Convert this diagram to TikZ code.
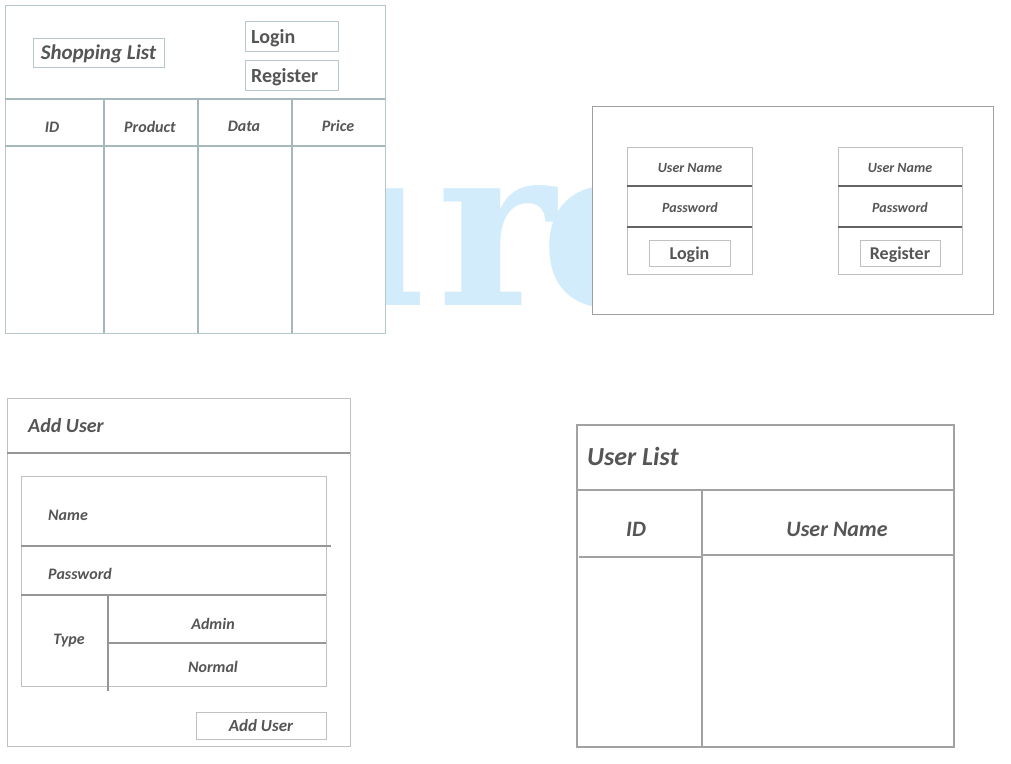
\documentclass[tikz,border=0pt]{standalone}
\usepackage{fontspec}
\setmainfont{Carlito}
\newfontfamily\slabfont{DejaVu Serif}
\usepackage{xcolor}
\usetikzlibrary{positioning}

\definecolor{txtgray}{RGB}{85,85,85}
\definecolor{wmblue}{RGB}{210,236,252}
\definecolor{shopborder}{RGB}{182,198,202}
\definecolor{shopgrid}{RGB}{166,184,188}
\definecolor{authborder}{RGB}{160,160,160}
\definecolor{boxgray}{RGB}{192,192,192}
\definecolor{darksep}{RGB}{100,100,100}
\definecolor{midsep}{RGB}{150,150,150}
\definecolor{listgrid}{RGB}{162,162,162}

\begin{document}
\begin{tikzpicture}[x=1pt, y=-1pt,
        panel/.style={draw=#1, fill=white, line width=1.2pt, anchor=north west, inner sep=0pt},
        box/.style={draw=boxgray, fill=white, line width=1pt, inner sep=0pt},
        lbl/.style={text=txtgray, font=\bfseries\itshape\fontsize{#1}{#1}\selectfont},
        btnlbl/.style={text=txtgray, font=\bfseries\fontsize{#1}{#1}\selectfont},
        wm/.style={text=wmblue, font=\slabfont\bfseries\fontsize{225}{225}\selectfont, inner sep=0pt},
        shopline/.style={draw=shopgrid, line width=2pt},
        sepline/.style={draw=#1, line width=2pt},
        listline/.style={draw=listgrid, line width=2.5pt}
    ]
        \fill[white] (0,0) rectangle (1011,763);
        \useasboundingbox (0,0) rectangle (1011,763);

        % Watermark
        \node[wm, anchor=base east] (wmU) at (428,305) {u};
        \node[wm, anchor=base west] (wmR) at (437,305) {r};
        \node[wm, anchor=base west] (wmE) at (540,305) {e};

        % Shopping list
        \node[panel=shopborder, minimum width=380pt, minimum height=328pt] (shop) at (5,5) {};
        \node[box, draw=shopborder, minimum width=131pt, minimum height=29pt] (shopTitleBox) at (98.5,52.5) {};
        \node[lbl=21, inner sep=0pt] (shopTitle) at (98.5,54) {Shopping List};
        \node[box, draw=shopborder, minimum width=93pt, minimum height=30pt] (shopLogin) at (291.5,36) {};
        \node[box, draw=shopborder, minimum width=93pt, minimum height=30pt] (shopRegister) at (291.5,75) {};
        \node[btnlbl=20, anchor=west, inner sep=0pt] (shopLoginText) at (251,38.5) {Login};
        \node[btnlbl=20, anchor=west, inner sep=0pt] (shopRegisterText) at (251,77.5) {Register};

        \draw[shopline] (5,99) -- (385,99);
        \draw[shopline] (5,146) -- (385,146);
        \foreach \x in {104,198,292}
            \draw[shopline] (\x,99) -- (\x,333);

        \node[lbl=16] (colID) at (52,127) {ID};
        \node[lbl=16] (colProduct) at (150,127) {Product};
        \node[lbl=16] (colData) at (244,126) {Data};
        \node[lbl=16] (colPrice) at (338,126) {Price};

        % Login and register
        \node[panel=authborder, minimum width=401pt, minimum height=208pt] (auth) at (592,106) {};
        \node[box, anchor=north west, minimum width=125pt, minimum height=127pt] (loginForm) at (627,147) {};
        \node[box, anchor=north west, minimum width=124pt, minimum height=127pt] (registerForm) at (838,147) {};
        \foreach \y in {186,227} {
            \draw[sepline=darksep] (627,\y) -- (752,\y);
            \draw[sepline=darksep] (838,\y) -- (962,\y);
        }
        \node[lbl=14] (loginUser) at (690,168.5) {User Name};
        \node[lbl=14] (loginPass) at (690,207.5) {Password};
        \node[lbl=14] (registerUser) at (900,168.5) {User Name};
        \node[lbl=14] (registerPass) at (900,207.5) {Password};
        \node[box, minimum width=81pt, minimum height=26pt] (loginBtn) at (689.5,253) {};
        \node[box, minimum width=80pt, minimum height=26pt] (registerBtn) at (900,253) {};
        \node[btnlbl=18, inner sep=0pt] (loginBtnText) at (689.5,254.5) {Login};
        \node[btnlbl=18, inner sep=0pt] (registerBtnText) at (900,254.5) {Register};

        % Add user
        \node[panel=boxgray, minimum width=343pt, minimum height=348pt] (addUser) at (7,398) {};
        \draw[sepline=midsep] (7,453) -- (350,453);
        \node[lbl=20, anchor=west, inner sep=0pt] (addTitle) at (28,425.5) {Add User};
        \node[box, anchor=north west, minimum width=305pt, minimum height=210pt] (addForm) at (21,476) {};
        \draw[sepline=midsep] (21,546) -- (331,546);
        \draw[sepline=midsep] (21,595) -- (326,595);
        \draw[sepline=midsep] (108,595) -- (108,691);
        \draw[sepline=midsep] (108,643) -- (326,643);
        \node[lbl=16, anchor=west, inner sep=0pt] (addName) at (48,515) {Name};
        \node[lbl=16, anchor=west, inner sep=0pt] (addPass) at (48,573.5) {Password};
        \node[lbl=16] (addType) at (69,640.5) {Type};
        \node[lbl=16] (addAdmin) at (213,624) {Admin};
        \node[lbl=16] (addNormal) at (213,667) {Normal};
        \node[box, lbl=17, minimum width=130pt, minimum height=27pt] (addBtn) at (261,725.5) {Add User};

        % User list
        \node[panel=listgrid, line width=1.5pt, minimum width=377pt, minimum height=322pt] (userList) at (576,424) {};
        \draw[listline] (576,490) -- (953,490);
        \draw[listline] (702,490) -- (702,746);
        \draw[listline] (579,557) -- (702,557);
        \draw[listline] (702,555) -- (953,555);
        \node[lbl=26, anchor=west, inner sep=0pt] (listTitle) at (587,456) {User List};
        \node[lbl=22] (listID) at (636,529) {ID};
        \node[lbl=22] (listName) at (837,529) {User Name};
    \end{tikzpicture}
\end{document}
